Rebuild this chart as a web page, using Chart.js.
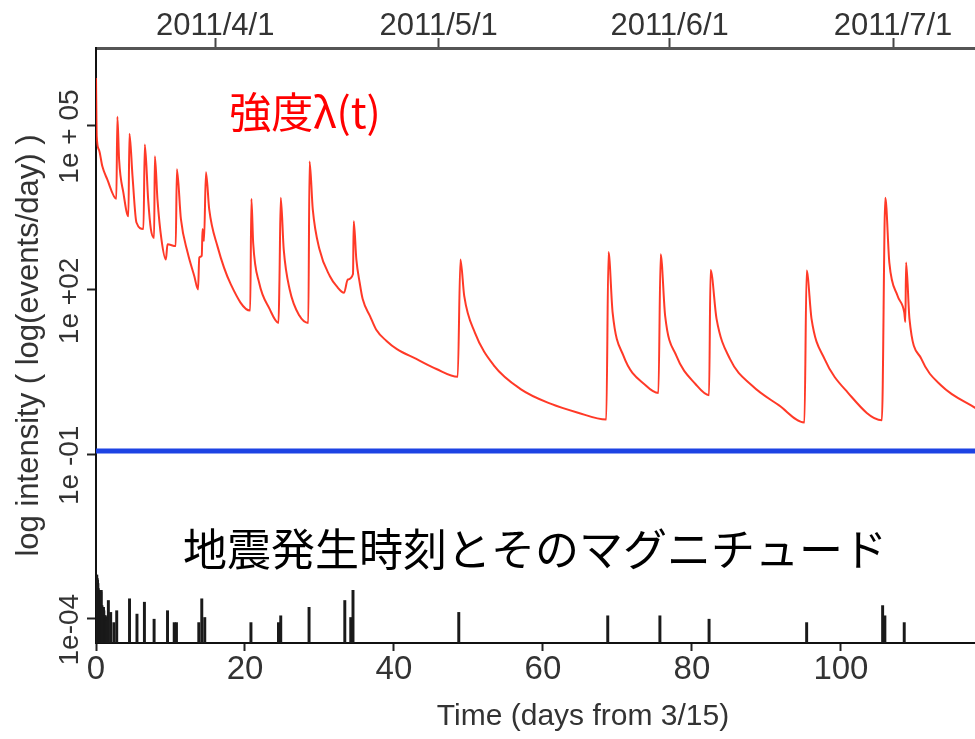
<!DOCTYPE html>
<html>
<head>
<meta charset="utf-8">
<script src="https://cdn.jsdelivr.net/npm/chart.js@4"></script>
<style>
  body { margin: 0; background: #fff; }
</style>
</head>
<body>
<canvas id="intensityChart" width="975" height="739"></canvas>
<script>
// conditional intensity (events/day), days from 3/16
const intensityDays = [
    0, 0.1, 0.4, 0.85, 1.5, 2.73, 2.87, 3.1, 3.68, 4.35, 4.49, 4.9, 5.43, 6.37, 6.55, 7.0, 7.36, 7.8, 7.9, 8.25,
    8.79, 9.38, 9.6, 10.7, 10.86, 11.4, 12.3, 13.2, 13.7, 13.86, 14.2, 14.3, 14.5, 14.76, 15.2, 16.3, 18.1, 20.7,
    20.86, 21.1, 21.9, 23.3, 24.5, 24.63, 24.8, 25.2, 26.0, 27.3, 28.5, 28.67, 29.1, 30.0, 31.4, 32.3, 33.3, 33.8,
    34.5, 34.6, 34.95, 35.4, 35.8, 36.8, 37.6, 39.0, 40.4, 43.0, 45.7, 48.56, 48.92, 49.43, 50.86, 53.4, 57.0,
    61.1, 64.6, 68.5, 68.8, 69.35, 70.8, 73.85, 75.5, 75.8, 76.4, 77.9, 80.5, 82.3, 82.5, 83.3, 85.1, 88.1, 91.7,
    95.1, 95.4, 96.05, 97.8, 100.9, 105.5, 105.96, 106.5, 107.6, 108.5, 108.65, 108.75, 109.2, 110.8, 113.5, 118.2
];
const intensityValues = [
    7.4e5, 6.3e4, 3.6e4, 1.8e4, 1.05e4, 4.6e3, 1.45e5, 2.4e4, 5.9e3, 2.2e3, 7.1e4, 1.2e4, 1.7e3, 1.3e3, 4.5e4, 4.5e3, 1.3e3, 890, 2.75e4, 4.5e3,
    830, 360, 680, 630, 1.6e4, 1.95e3, 480, 178, 102, 390, 420, 1.3e3, 780, 1.4e4, 2.95e3, 630, 126, 42,
    4.6e3, 720, 135, 45, 25, 155, 4.8e3, 550, 102, 34, 25, 2.2e4, 2.95e3, 550, 178, 117, 89, 155,
    195, 1.8e3, 360, 135, 68, 33, 19, 11.7, 8.3, 5.5, 3.6, 2.6, 360, 78, 16.6, 4.2, 1.55,
    0.83, 0.58, 0.43, 490, 39, 6.3, 1.78, 1.32, 450, 34, 6.3, 1.9, 1.2, 230, 30, 5.5, 1.78, 0.78,
    0.38, 225, 30, 5.5, 1.35, 0.42, 4.8e3, 316, 78, 39, 26, 316, 30, 5.5, 1.78, 0.68
];
// background rate
const backgroundRate = 0.115;
const backgroundDays = [0, 118.2];

// event times and magnitudes
const quakeDays = [
    0, 0.05, 0.1, 0.15, 0.2, 0.25, 0.3, 0.35, 0.4, 0.45, 0.5, 0.55, 0.6, 0.65, 0.7, 0.8, 0.85, 0.9, 0.95, 1.0,
    1.05, 1.1, 1.15, 1.2, 1.25, 1.3, 1.35, 1.4, 1.45, 1.5, 1.66, 1.97, 2.4, 2.78,
    4.5, 5.5, 6.5, 7.8, 9.6, 10.5, 10.8, 13.8, 14.2, 14.6, 20.8, 24.5, 24.8, 28.6, 33.4, 34.2, 34.5,
    48.7, 68.7, 75.7, 82.3, 95.4, 105.6, 105.9, 108.5
];
const quakeMagnitudes = [
    9.0, 8.9, 9.0, 8.8, 8.7, 8.5, 8.2, 8.1, 8.1, 7.9, 8.0, 8.1, 7.8, 8.0, 8.1, 7.2, 7.1, 7.0, 7.0, 7.1,
    6.9, 6.6, 6.5, 6.6, 6.6, 6.5, 6.4, 6.5, 6.5, 6.3, 7.5, 6.8, 6.2, 6.9,
    7.6, 6.7, 7.4, 6.4, 6.9, 6.2, 6.2, 6.2, 7.6, 6.5, 6.2, 6.2, 6.6, 7.1, 7.5, 6.5, 8.1,
    6.8, 6.6, 6.6, 6.4, 6.2, 7.2, 6.6, 6.2
];

const xTicks = [0, 20, 40, 60, 80, 100];
const yTickValues = [1e-4, 1e-1, 1e2, 1e5];
const yTickLabels = ['1e-04', '1e -01', '1e +02', '1e + 05'];
const dateTickDays = [16, 46, 77, 107];
const dateTickLabels = ['2011/4/1', '2011/5/1', '2011/6/1', '2011/7/1'];

const xTitle = 'Time (days from 3/15)';
const yTitle = 'log intensity ( log(events/day) )';
const intensityNote = '強度λ(t)';
const quakeNote = '地震発生時刻とそのマグニチュード';

const latin = '"Liberation Sans", Arial, sans-serif';
const cjk = '"Noto Sans CJK JP", "Noto Sans", sans-serif';
const textColor = '#333';

// rotated y labels, x title and the two notes
const extraText = {
    id: 'extraText',
    afterDraw(chart) {
        const ctx = chart.ctx;
        const yScale = chart.scales.y;
        ctx.save();
        ctx.fillStyle = textColor;
        ctx.textAlign = 'center';
        ctx.textBaseline = 'middle';
        ctx.font = '28px ' + latin;
        yTickValues.forEach((v, i) => {
            ctx.save();
            ctx.translate(70, yScale.getPixelForValue(v) + 11);
            ctx.rotate(-Math.PI / 2);
            ctx.fillText(yTickLabels[i], 0, 0);
            ctx.restore();
        });

        ctx.font = '30px ' + latin;
        ctx.fillText(xTitle, 583, 717);

        ctx.fillStyle = '#ff0000';
        ctx.font = '42px ' + cjk;
        ctx.fillText(intensityNote, 305, 112);

        ctx.fillStyle = '#000';
        ctx.font = '44px ' + cjk;
        ctx.fillText(quakeNote, 535, 549);
        ctx.restore();
    }
};

const ctx = document.getElementById('intensityChart');
new Chart(ctx, {
    type: 'line',
    data: {
        datasets: [
            {
                label: 'intensity',
                data: intensityDays.map((d, i) => ({ x: d, y: intensityValues[i] })),
                borderColor: 'rgba(255, 35, 15, 0.9)',
                borderWidth: 2,
                pointRadius: 0,
                cubicInterpolationMode: 'monotone',
                xAxisID: 'x',
                yAxisID: 'y',
                order: 0
            },
            {
                label: 'background',
                data: backgroundDays.map(d => ({ x: d, y: backgroundRate })),
                borderColor: '#1d43e4',
                borderWidth: 5,
                pointRadius: 0,
                xAxisID: 'x',
                yAxisID: 'y',
                order: 1
            },
            {
                type: 'bar',
                label: 'magnitude',
                data: quakeDays.map((d, i) => ({ x: d, y: quakeMagnitudes[i] })),
                backgroundColor: '#1a1a1a',
                barThickness: 2.3,
                xAxisID: 'x',
                yAxisID: 'mag',
                order: 2
            }
        ]
    },
    options: {
        responsive: false,
        animation: false,
        layout: { padding: 0 },
        plugins: {
            legend: { display: false },
            tooltip: { enabled: false }
        },
        scales: {
            x: {
                type: 'linear',
                position: 'bottom',
                min: 0,
                max: 118,
                offset: false,
                afterBuildTicks: s => { s.ticks = xTicks.map(v => ({ value: v })); },
                afterFit: s => { s.height = 96; },
                ticks: {
                    color: textColor,
                    font: { family: latin, size: 33, lineHeight: 1 },
                    padding: 2,
                    maxRotation: 0
                },
                grid: { offset: false, drawOnChartArea: false, tickLength: 8, tickColor: '#222', tickWidth: 2 },
                border: { display: true, color: '#111', width: 2 }
            },
            x2: {
                type: 'linear',
                position: 'top',
                min: 0,
                max: 118,
                offset: false,
                afterBuildTicks: s => { s.ticks = dateTickDays.map(v => ({ value: v })); },
                afterFit: s => { s.height = 48; },
                ticks: {
                    color: textColor,
                    font: { family: latin, size: 31, lineHeight: 1 },
                    padding: -4,
                    maxRotation: 0,
                    callback: (v, i) => dateTickLabels[i]
                },
                grid: { offset: false, drawOnChartArea: false, tickLength: 10, tickColor: '#444', tickWidth: 2 },
                border: { display: true, color: '#555', width: 3 }
            },
            y: {
                type: 'logarithmic',
                position: 'left',
                min: 3.6e-5,
                max: 2.6e6,
                afterBuildTicks: s => { s.ticks = yTickValues.map(v => ({ value: v })); },
                afterFit: s => { s.width = 96; },
                ticks: { display: false },
                grid: { drawOnChartArea: false, tickLength: 9, tickColor: '#222', tickWidth: 2 },
                border: { display: true, color: '#111', width: 2 },
                title: {
                    display: true,
                    text: yTitle,
                    color: textColor,
                    font: { family: latin, size: 31 },
                    padding: { top: 11, bottom: 0 }
                }
            },
            mag: {
                type: 'linear',
                display: false,
                min: 5,
                max: 40
            }
        }
    },
    plugins: [extraText]
});
</script>
</body>
</html>
